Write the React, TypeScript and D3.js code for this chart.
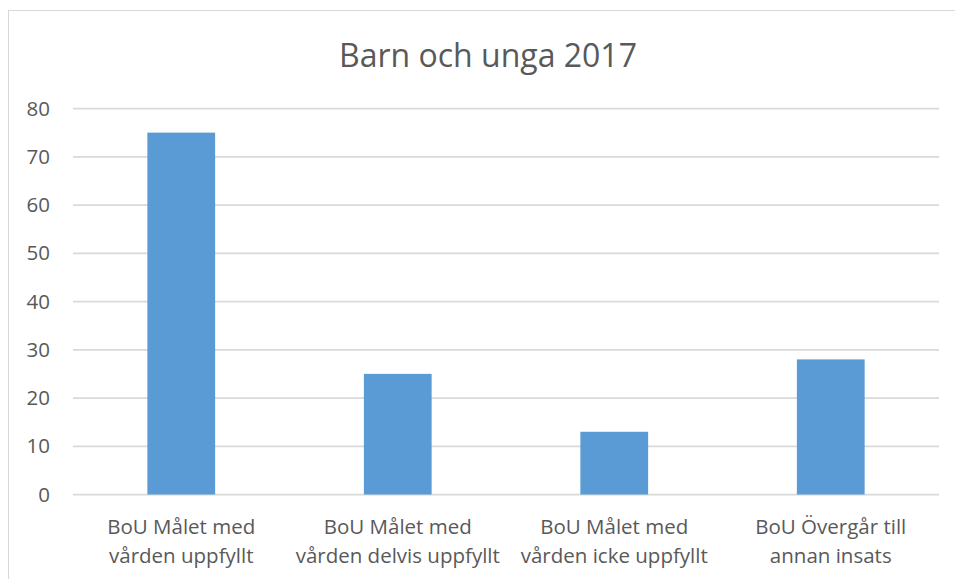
import React, { useEffect, useRef } from 'react'
import * as d3 from 'd3'

const categories = [
  'BoU Målet med|vården uppfyllt',
  'BoU Målet med|vården delvis uppfyllt',
  'BoU Målet med|vården icke uppfyllt',
  'BoU Övergår till|annan insats',
]
const values = [75, 25, 13, 28]
const yTicks = [0, 10, 20, 30, 40, 50, 60, 70, 80]
const title = 'Barn och unga 2017'

export default function App() {
  const ref = useRef<HTMLDivElement | null>(null)

  useEffect(() => {
    const container = d3.select(ref.current!)
    container.selectAll('*').remove()
    const width = 955
    const height = 579
    const margin = { top: 108.5, right: 16, bottom: 84.5, left: 73 }
    const font = '"Open Sans", sans-serif'
    const textColor = '#595959'
    const gridColor = '#d9d9d9'

    const svg = container.append('svg')
      .attr('width', width).attr('height', height)
      .attr('viewBox', `0 0 ${width} ${height}`)
      .style('position', 'absolute').style('left', '0px').style('top', '0px')
      .style('background', '#fff')

    // chart area frame (cropped at right/bottom)
    svg.append('rect').attr('x', 8.5).attr('y', 10.5).attr('width', width + 10).attr('height', height + 10)
      .attr('fill', '#fff').attr('stroke', gridColor).attr('stroke-width', 1)

    const x = d3.scaleBand<string>().domain(categories)
      .range([margin.left, width - margin.right])
      .paddingInner(0.687).paddingOuter(0.3435)
    const y = d3.scaleLinear().domain([0, 80]).range([height - margin.bottom, margin.top])

    const g = svg.append('g')

    // gridlines
    g.append('g').selectAll('line').data(yTicks).enter().append('line')
      .attr('x1', margin.left).attr('x2', width - margin.right)
      .attr('y1', d => y(d)).attr('y2', d => y(d))
      .attr('stroke', gridColor).attr('stroke-width', 1.75)

    // y tick labels
    g.append('g').selectAll('text').data(yTicks).enter().append('text')
      .attr('x', 50).attr('y', d => y(d)).attr('dy', '0.35em')
      .attr('text-anchor', 'end').attr('font-family', font).attr('font-size', 20.5)
      .attr('fill', textColor).text(d => String(d))

    // bars
    g.append('g').selectAll('rect').data(categories).enter().append('rect')
      .attr('x', d => x(d) ?? 0)
      .attr('y', (_, i) => y(values[i]))
      .attr('width', x.bandwidth())
      .attr('height', (_, i) => y(0) - y(values[i]))
      .attr('fill', '#5b9bd5')

    // category labels
    const labels = g.append('g').selectAll('text').data(categories).enter().append('text')
      .attr('text-anchor', 'middle').attr('font-family', font).attr('font-size', 20.5)
      .attr('fill', textColor)
    labels.each(function (d) {
      const cx = (x(d) ?? 0) + x.bandwidth() / 2
      d.split('|').forEach((line, i) => {
        d3.select(this).append('tspan').attr('x', cx).attr('y', 534 + i * 28.5).text(line)
      })
    })

    svg.append('text').attr('x', 488).attr('y', 66.5).attr('text-anchor', 'middle')
      .attr('font-family', font).attr('font-size', 32).attr('fill', textColor).text(title)
  }, [])

  return <div ref={ref} />
}
